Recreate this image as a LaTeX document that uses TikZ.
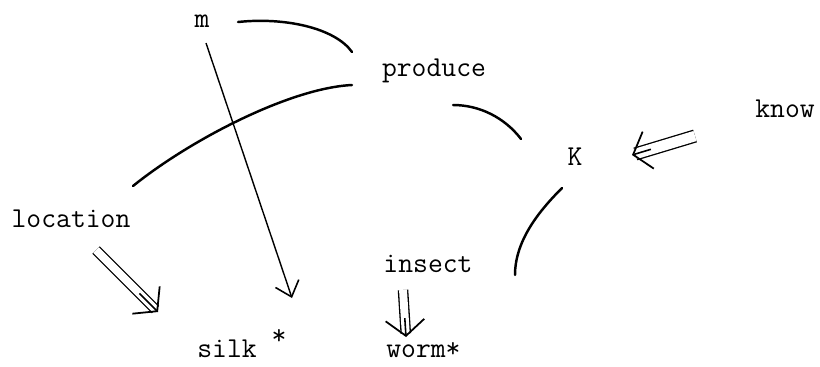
\documentclass[tikz,border=0pt]{standalone}
\usepackage{tikz}
\usetikzlibrary{arrows.meta,calc}

\begin{document}
\begin{tikzpicture}[x=0.02cm,y=-0.02cm,
		word/.style={inner sep=0pt,anchor=base,font=\fontsize{16.4}{19}\selectfont\ttfamily},
		arc/.style={line width=1.4pt,line cap=round},
		barb/.style={line width=0.8pt,-{Straight Barb[length=8pt,width=14pt,line width=0.9pt]}},
		dbl/.style={double,double distance=4.5pt,line width=0.75pt,shorten >=2pt},
		dhead/.style={line width=0.9pt,-{Straight Barb[length=9pt,width=22pt,line width=1pt]}}]
	
	\useasboundingbox (0,0) rectangle (820,366);
	
	\node[word] (m) at (202,27) {m};
	\node[word] (produce) at (434,76) {produce};
	\node[word] (know) at (785,117) {know};
	\node[word] (K) at (575,165) {K};
	\node[word] (location) at (71,227) {location};
	\node[word] (insect) at (428,272) {insect};
	\node[word,anchor=base west] (silk) at (197,357) {silk \raisebox{1ex}{*}};
	\node[word,anchor=base west] (worm) at (386,357) {worm*};
	
	\coordinate (mR) at (238,22);
	\coordinate (prodA) at (352,52);
	\coordinate (locR) at (133,186);
	\coordinate (prodB) at (352,85);
	\coordinate (prodR) at (453,105);
	\coordinate (KL) at (521,139);
	\coordinate (KB) at (562,188);
	\coordinate (insR) at (515,275);
	\coordinate (mB) at (206,43);
	\coordinate (silkTip) at (292,298);
	\coordinate (knowT) at (695,136);
	\coordinate (KTip) at (632,155);
	\coordinate (locB) at (96,250);
	\coordinate (locTip) at (158,312);
	\coordinate (insB) at (403,290);
	\coordinate (wormTip) at (406,337);
	
	\draw[arc] (mR) .. controls (285,17) and (335,28) .. (prodA);
	\draw[arc] (locR) .. controls (190,140) and (290,88) .. (prodB);
	\draw[arc] (prodR) .. controls (480,105) and (505,118) .. (KL);
	\draw[arc] (KB) .. controls (540,210) and (515,240) .. (insR);
	
	\draw[barb] (mB) -- (silkTip);
	
	\draw[dbl,double distance=6pt] (knowT) -- (KTip);
	\draw[dhead] ($(KTip)!0.3!(knowT)$) -- (KTip);
	\draw[dbl] (locB) -- (locTip);
	\draw[dhead] ($(locTip)!0.3!(locB)$) -- (locTip);
	\draw[dbl] (insB) -- (wormTip);
	\draw[dhead] ($(wormTip)!0.4!(insB)$) -- (wormTip);
\end{tikzpicture}
\end{document}
